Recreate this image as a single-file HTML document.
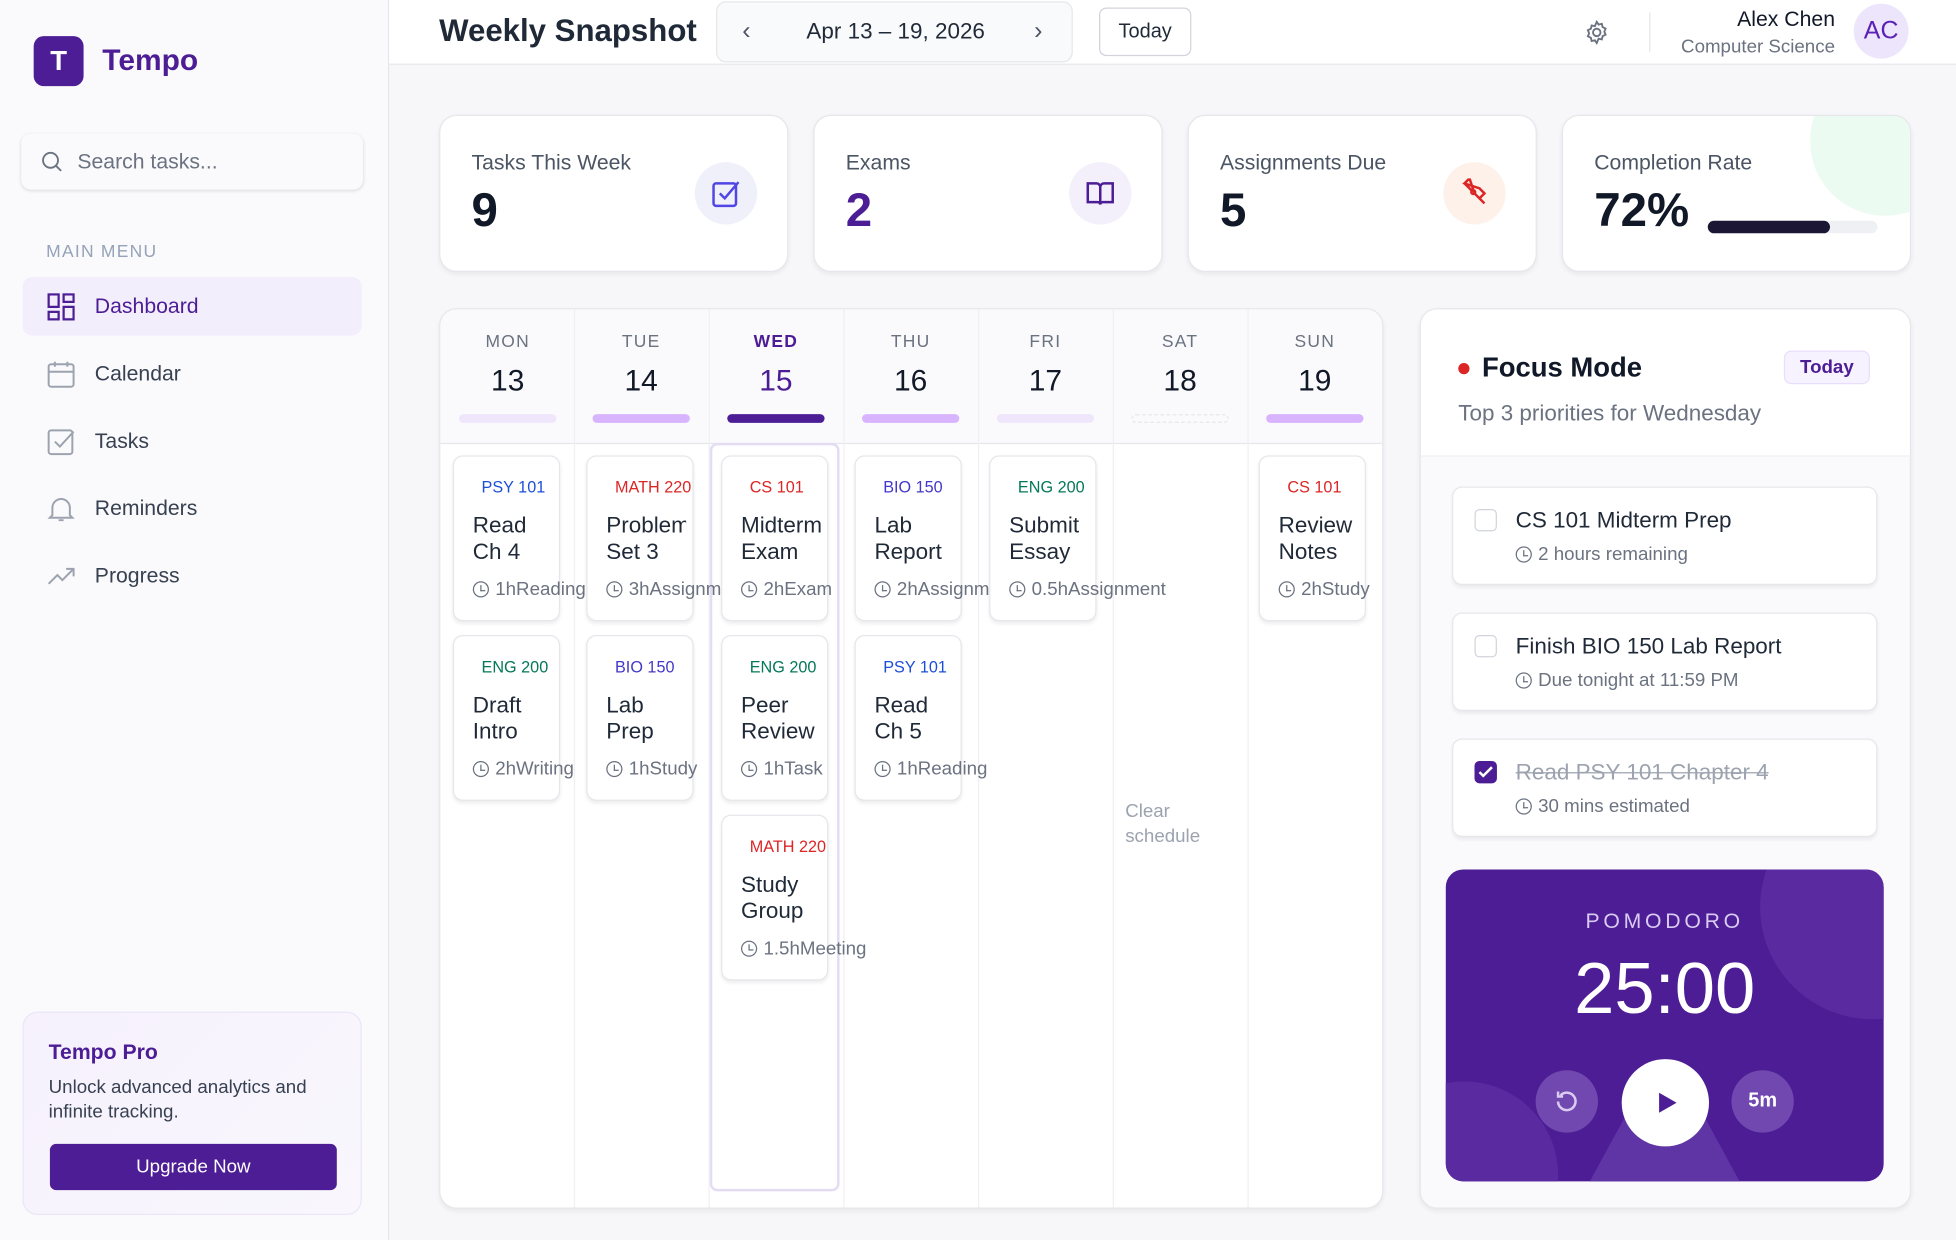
<!DOCTYPE html>
<html><head><meta charset="utf-8"><style>
html,body{margin:0;padding:0;width:1956px;height:1240px;overflow:hidden;background:#f7f7fa}
#w{position:absolute;left:0;top:0;width:1568px;height:994px;transform:scale(1.24745);transform-origin:0 0;font-family:"Liberation Sans",sans-serif;color:#111827;background:#f7f7fa;overflow:hidden}
.a{position:absolute}
.card{position:absolute;background:#fff;border:1px solid #e5e7eb;border-radius:14px;box-shadow:0 2px 4px rgba(0,0,0,.06)}
.nav{position:absolute;left:18px;width:272px;height:47px;font-size:17px;color:#374151}
.nav span{position:absolute;left:58px;top:14px}
.nav svg{position:absolute;left:20px;top:13px}
.lbl{position:absolute;left:25px;top:28px;font-size:17px;color:#4b5563}
.val{position:absolute;left:25px;top:55px;font-size:38px;font-weight:bold}
.ic{position:absolute;left:204px;top:37px;width:50px;height:50px;border-radius:50%;background:#f0f0fb}
.ic svg{position:absolute;left:13px;top:13px}
.day{position:absolute;top:0;width:108px;height:107px;text-align:center}
.day .d{position:absolute;top:17px;width:100%;font-size:14px;color:#6b7280;letter-spacing:1px}
.day .n{position:absolute;top:44px;width:100%;font-size:24px}
.day .b{position:absolute;top:84px;left:15px;width:78px;height:7px;border-radius:4px}
.t{position:absolute;width:86px;height:133px;background:#fff;border:1px solid #e5e7eb;border-radius:8px;box-shadow:0 2px 3px rgba(0,0,0,.07);box-sizing:border-box}
.t .c{position:absolute;left:22px;top:17px;font-size:13px;white-space:nowrap}
.t .h{position:absolute;left:15px;top:45px;width:64px;overflow:hidden;font-size:18px;line-height:21px;color:#1f2937;white-space:nowrap}
.t .m{position:absolute;left:15px;top:98px;font-size:15px;color:#6b7280;white-space:nowrap}
.ck{display:inline-block;width:11px;height:11px;border:1.5px solid #6b7280;border-radius:50%;vertical-align:-2px;margin-right:5px;position:relative}
.ck:after{content:"";position:absolute;left:5px;top:2px;width:3px;height:4px;border-left:1.5px solid #6b7280;border-bottom:1.5px solid #6b7280}
.fi{position:absolute;left:25px;width:341px;height:79px;background:#fff;border:1px solid #e5e7eb;border-radius:8px;box-shadow:0 2px 3px rgba(0,0,0,.06);box-sizing:border-box}
.fi .bx{position:absolute;left:17px;top:17px;width:18px;height:18px;border:1.5px solid #d1d5db;border-radius:4px;box-sizing:border-box}
.fi .tt{position:absolute;left:50px;top:16px;font-size:18px;color:#1f2937}
.fi .mm{position:absolute;left:50px;top:45px;font-size:15px;color:#6b7280}
</style></head><body><div id="w">
<div class="a" style="left:0;top:0;width:311px;height:994px;background:#fafafc;border-right:1px solid #e5e7eb"></div>
<div class="a" style="left:27px;top:29px;width:40px;height:40px;border-radius:8px;background:#4c1d95;color:#fff;font-size:22px;font-weight:bold;text-align:center;line-height:40px">T</div>
<div class="a" style="left:82px;top:35px;font-size:24px;font-weight:bold;color:#4c1d95">Tempo</div>
<div class="a" style="left:17px;top:107px;width:274px;height:45px;background:#fafafc;border-radius:8px;box-shadow:0 1px 3px rgba(0,0,0,.12)">
<svg class="a" style="left:16px;top:14px" width="18" height="18" viewBox="0 0 18 18"><circle cx="7.5" cy="7.5" r="6" fill="none" stroke="#6b7280" stroke-width="1.5"/><path d="M12 12l4 4" stroke="#6b7280" stroke-width="1.5"/></svg>
<div class="a" style="left:45px;top:13px;font-size:17px;color:#6b7280">Search tasks...</div></div>
<div class="a" style="left:37px;top:193px;font-size:14px;color:#94a3b8;letter-spacing:1px">MAIN MENU</div>
<div class="nav" style="top:222px;background:#f3eefc;border-radius:8px;color:#4c1d95"><svg width="22" height="22" viewBox="0 0 22 22" fill="none" stroke="#4c1d95" stroke-width="1.8"><rect x="1" y="1" width="8" height="10"/><rect x="13" y="1" width="8" height="6"/><rect x="1" y="15" width="8" height="6"/><rect x="13" y="11" width="8" height="10"/></svg><span>Dashboard</span></div>
<div class="nav" style="top:276px"><svg width="22" height="22" viewBox="0 0 22 22" fill="none" stroke="#9ca3af" stroke-width="1.6"><rect x="1" y="3" width="20" height="18" rx="2"/><path d="M1 9h20M6 1v4M16 1v4"/></svg><span>Calendar</span></div>
<div class="nav" style="top:330px"><svg width="22" height="22" viewBox="0 0 22 22" fill="none" stroke="#9ca3af" stroke-width="1.6"><rect x="1" y="2" width="19" height="19" rx="2"/><path d="M6 11l4 4 11-12"/></svg><span>Tasks</span></div>
<div class="nav" style="top:384px"><svg width="22" height="22" viewBox="0 0 22 22" fill="none" stroke="#9ca3af" stroke-width="1.6"><path d="M4 16V10a7 7 0 0 1 14 0v6l2 2H2z M9 20h4"/></svg><span>Reminders</span></div>
<div class="nav" style="top:438px"><svg width="24" height="22" viewBox="0 0 24 22" fill="none" stroke="#9ca3af" stroke-width="1.6"><path d="M1 17l7-7 4 4 9-9M15 5h6v6"/></svg><span>Progress</span></div>
<div class="a" style="left:18px;top:811px;width:272px;height:163px;border-radius:12px;border:1px solid #ebe5f7;background:linear-gradient(135deg,#f6f1fd,#f9f7fd);box-sizing:border-box">
<div class="a" style="left:20px;top:22px;font-size:17px;font-weight:bold;color:#4c1d95">Tempo Pro</div>
<div class="a" style="left:20px;top:50px;width:240px;font-size:15px;line-height:20px;color:#374151">Unlock advanced analytics and infinite tracking.</div>
<div class="a" style="left:21px;top:105px;width:230px;height:37px;border-radius:5px;background:#4c1d95;color:#fff;font-size:15px;text-align:center;line-height:37px">Upgrade Now</div></div>
<div class="a" style="left:312px;top:0;width:1256px;height:51px;background:#fff;border-bottom:1px solid #e5e7eb"></div>
<div class="a" style="left:352px;top:11px;font-size:25px;font-weight:bold;color:#1f2937">Weekly Snapshot</div>
<div class="a" style="left:574px;top:1px;width:286px;height:49px;border:1px solid #e5e7eb;border-radius:8px;background:#f9fafb;box-sizing:border-box">
<div class="a" style="left:20px;top:12px;font-size:20px;color:#4b5563">‹</div>
<div class="a" style="left:0;width:286px;top:13px;text-align:center;font-size:18px;color:#1f2937">Apr 13 – 19, 2026</div>
<div class="a" style="left:254px;top:12px;font-size:20px;color:#4b5563">›</div></div>
<div class="a" style="left:881px;top:6px;width:74px;height:39px;border:1px solid #d1d5db;border-radius:6px;box-sizing:border-box;text-align:center;line-height:37px;font-size:16px;color:#1f2937;background:#fff">Today</div>
<svg class="a" style="left:1270px;top:16px" width="20" height="20" viewBox="0 0 20 20" fill="none" stroke="#6b7280" stroke-width="1.5"><circle cx="10" cy="10" r="3"/><path d="M10 1.5l1.5 2.2 2.6-.6.6 2.6 2.4 1.2-1 2.5 1 2.4-2.4 1.2-.6 2.6-2.6-.6L10 18.5l-1.5-2.2-2.6.6-.6-2.6-2.4-1.2 1-2.4-1-2.5 2.4-1.2.6-2.6 2.6.6z"/></svg>
<div class="a" style="left:1322px;top:10px;width:1px;height:32px;background:#e5e7eb"></div>
<div class="a" style="right:97px;top:6px;font-size:17px;color:#111827;text-align:right">Alex Chen</div>
<div class="a" style="right:97px;top:29px;font-size:15px;color:#6b7280;text-align:right">Computer Science</div>
<div class="a" style="left:1486px;top:3px;width:44px;height:44px;border-radius:50%;background:#ede5fb;color:#5b21b6;font-size:20px;text-align:center;line-height:44px">AC</div>
<div class="card" style="left:352px;top:92px;width:278px;height:124px"><div class="lbl">Tasks This Week</div><div class="val">9</div><div class="ic"><svg width="24" height="24" viewBox="0 0 24 24" fill="none" stroke="#4f46e5" stroke-width="2"><rect x="2" y="4" width="18" height="18" rx="2"/><path d="M7 12l4 4 11-13"/></svg></div></div>
<div class="card" style="left:652px;top:92px;width:278px;height:124px"><div class="lbl">Exams</div><div class="val" style="color:#4c1d95">2</div><div class="ic" style="background:#f3effb"><svg width="24" height="24" viewBox="0 0 24 24" fill="none" stroke="#4c1d95" stroke-width="2"><path d="M2 4h7a3 3 0 0 1 3 3v14a2 2 0 0 0-2-2H2zM22 4h-7a3 3 0 0 0-3 3v14a2 2 0 0 1 2-2h8z"/></svg></div></div>
<div class="card" style="left:952px;top:92px;width:278px;height:124px"><div class="lbl">Assignments Due</div><div class="val">5</div><div class="ic" style="background:#fdf1ea"><svg width="24" height="24" viewBox="0 0 24 24" fill="none" stroke="#dc2626" stroke-width="2"><path d="M4 4l12 4 4 4-4 4-4-4-4-12zM4 4l6 6M16 16l4 4"/><circle cx="11" cy="11" r="1.5"/></svg></div></div>
<div class="card" style="left:1252px;top:92px;width:278px;height:124px;overflow:hidden"><div class="a" style="left:198px;top:-40px;width:120px;height:120px;border-radius:50%;background:#ecfbf1"></div><div class="lbl">Completion Rate</div><div class="val">72%</div>
<div class="a" style="left:116px;top:84px;width:136px;height:10px;border-radius:5px;background:#eef0f3"><div style="width:98px;height:10px;border-radius:5px;background:#1a1633"></div></div></div>
<div class="card" style="left:352px;top:247px;width:755px;height:720px;overflow:hidden">
<div class="a" style="left:0;top:0;width:755px;height:107px;background:#fafafc;border-bottom:1px solid #e5e7eb"></div>
<div class="a" style="left:107px;top:0;width:1px;height:720px;background:#f0f0f3"></div>
<div class="a" style="left:215px;top:0;width:1px;height:720px;background:#f0f0f3"></div>
<div class="a" style="left:323px;top:0;width:1px;height:720px;background:#f0f0f3"></div>
<div class="a" style="left:431px;top:0;width:1px;height:720px;background:#f0f0f3"></div>
<div class="a" style="left:539px;top:0;width:1px;height:720px;background:#f0f0f3"></div>
<div class="a" style="left:647px;top:0;width:1px;height:720px;background:#f0f0f3"></div>
<div class="day" style="left:0"><div class="d">MON</div><div class="n">13</div><div class="b" style="background:#f0e6fc"></div></div>
<div class="day" style="left:107px"><div class="d">TUE</div><div class="n">14</div><div class="b" style="background:#d8b4fe"></div></div>
<div class="day" style="left:215px"><div class="d" style="color:#4c1d95;font-weight:bold">WED</div><div class="n" style="color:#4c1d95">15</div><div class="b" style="background:#4c1d95"></div></div>
<div class="day" style="left:323px"><div class="d">THU</div><div class="n">16</div><div class="b" style="background:#d8b4fe"></div></div>
<div class="day" style="left:431px"><div class="d">FRI</div><div class="n">17</div><div class="b" style="background:#f0e6fc"></div></div>
<div class="day" style="left:539px"><div class="d">SAT</div><div class="n">18</div><div class="b" style="border:1px dashed #e5e7eb;box-sizing:border-box"></div></div>
<div class="day" style="left:647px"><div class="d">SUN</div><div class="n">19</div><div class="b" style="background:#d8b4fe"></div></div>
<div class="a" style="left:216px;top:107px;width:104px;height:600px;border:2px solid #e4dcf3;border-radius:6px;box-sizing:border-box"></div>
<div class="a" style="left:549px;top:393px;font-size:15px;line-height:20px;color:#9ca3af">Clear<br>schedule</div>
</div>
<div class="a" style="left:352px;top:247px">
<div class="t" style="left:11px;top:118px"><div class="c" style="color:#1d4ed8">PSY 101</div><div class="h">Read<br>Ch 4</div><div class="m"><i class="ck"></i>1hReading</div></div>
<div class="t" style="left:11px;top:262px"><div class="c" style="color:#047857">ENG 200</div><div class="h">Draft<br>Intro</div><div class="m"><i class="ck"></i>2hWriting</div></div>
<div class="t" style="left:118px;top:118px"><div class="c" style="color:#dc2626">MATH 220</div><div class="h">Problem<br>Set 3</div><div class="m"><i class="ck"></i>3hAssignment</div></div>
<div class="t" style="left:118px;top:262px"><div class="c" style="color:#4338ca">BIO 150</div><div class="h">Lab<br>Prep</div><div class="m"><i class="ck"></i>1hStudy</div></div>
<div class="t" style="left:226px;top:118px"><div class="c" style="color:#dc2626">CS 101</div><div class="h">Midterm<br>Exam</div><div class="m"><i class="ck"></i>2hExam</div></div>
<div class="t" style="left:226px;top:262px"><div class="c" style="color:#047857">ENG 200</div><div class="h">Peer<br>Review</div><div class="m"><i class="ck"></i>1hTask</div></div>
<div class="t" style="left:226px;top:406px"><div class="c" style="color:#dc2626">MATH 220</div><div class="h">Study<br>Group</div><div class="m"><i class="ck"></i>1.5hMeeting</div></div>
<div class="t" style="left:333px;top:118px"><div class="c" style="color:#4338ca">BIO 150</div><div class="h">Lab<br>Report</div><div class="m"><i class="ck"></i>2hAssignment</div></div>
<div class="t" style="left:333px;top:262px"><div class="c" style="color:#1d4ed8">PSY 101</div><div class="h">Read<br>Ch 5</div><div class="m"><i class="ck"></i>1hReading</div></div>
<div class="t" style="left:441px;top:118px"><div class="c" style="color:#047857">ENG 200</div><div class="h">Submit<br>Essay</div><div class="m"><i class="ck"></i>0.5hAssignment</div></div>
<div class="t" style="left:657px;top:118px"><div class="c" style="color:#dc2626">CS 101</div><div class="h">Review<br>Notes</div><div class="m"><i class="ck"></i>2hStudy</div></div>
</div>
<div class="card" style="left:1138px;top:247px;width:392px;height:720px;overflow:hidden;background:#fafafc">
<div class="a" style="left:0;top:0;width:392px;height:117px;background:#fff;border-bottom:1px solid #eef0f3"></div>
<div class="a" style="left:30px;top:43px;width:9px;height:9px;border-radius:50%;background:#dc2626"></div>
<div class="a" style="left:49px;top:34px;font-size:22px;font-weight:bold;color:#111827">Focus Mode</div>
<div class="a" style="left:291px;top:33px;width:69px;height:27px;border:1px solid #e9defc;border-radius:6px;background:#f7f2ff;box-sizing:border-box;text-align:center;line-height:25px;font-size:15px;font-weight:bold;color:#4c1d95">Today</div>
<div class="a" style="left:30px;top:73px;font-size:18px;color:#6b7280">Top 3 priorities for Wednesday</div>
<div class="fi" style="top:142px"><div class="bx"></div><div class="tt">CS 101 Midterm Prep</div><div class="mm"><i class="ck"></i>2 hours remaining</div></div>
<div class="fi" style="top:243px"><div class="bx"></div><div class="tt">Finish BIO 150 Lab Report</div><div class="mm"><i class="ck"></i>Due tonight at 11:59 PM</div></div>
<div class="fi" style="top:344px"><div class="bx" style="background:#4c1d95;border-color:#4c1d95"><svg class="a" style="left:2px;top:3px" width="12" height="10" viewBox="0 0 12 10" fill="none" stroke="#fff" stroke-width="2"><path d="M1 5l3 3 7-7"/></svg></div><div class="tt" style="color:#9ca3af;text-decoration:line-through">Read PSY 101 Chapter 4</div><div class="mm"><i class="ck"></i>30 mins estimated</div></div>
<div class="a" style="left:20px;top:449px;width:351px;height:250px;border-radius:14px;background:#4c1d95;overflow:hidden">
<div class="a" style="left:252px;top:-60px;width:180px;height:180px;border-radius:50%;background:#5a2ba0"></div>
<div class="a" style="left:-60px;top:170px;width:150px;height:150px;border-radius:50%;background:#5a2ba0"></div>
<div class="a" style="left:110px;top:200px;width:131px;height:60px;background:#5f35a5;clip-path:polygon(25% 0,75% 0,100% 100%,0 100%)"></div>
<div class="a" style="left:0;width:351px;top:32px;text-align:center;font-size:17px;letter-spacing:3px;color:#d9cbf2">POMODORO</div>
<div class="a" style="left:0;width:351px;top:62px;text-align:center;font-size:58px;color:#fff">25:00</div>
<div class="a" style="left:72px;top:161px;width:50px;height:50px;border-radius:50%;background:#7048b0"><svg class="a" style="left:15px;top:15px" width="20" height="20" viewBox="0 0 20 20" fill="none" stroke="#d9cbf2" stroke-width="2"><path d="M3 10a7 7 0 1 0 2-5M3 2v4h4"/></svg></div>
<div class="a" style="left:141px;top:152px;width:70px;height:70px;border-radius:50%;background:#fff"><svg class="a" style="left:29px;top:26px" width="16" height="18" viewBox="0 0 16 18"><path d="M1 1l14 8-14 8z" fill="#4c1d95"/></svg></div>
<div class="a" style="left:229px;top:161px;width:50px;height:50px;border-radius:50%;background:#7048b0;color:#fff;font-weight:bold;font-size:16px;text-align:center;line-height:50px">5m</div>
</div></div>
</div></body></html>
